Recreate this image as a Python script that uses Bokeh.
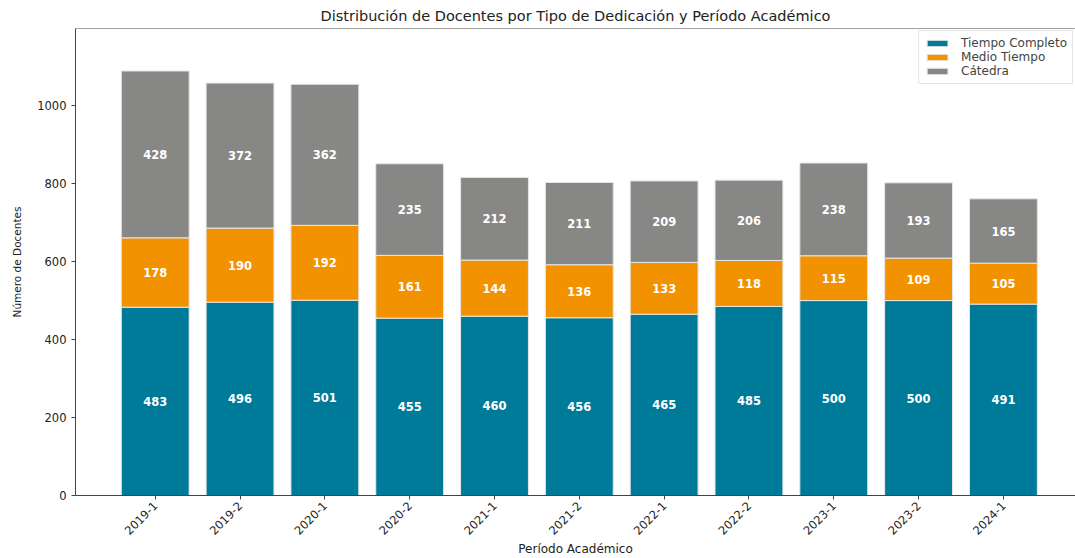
import numpy as np
from bokeh.plotting import figure
from bokeh.models import ColumnDataSource, FixedTicker, Span, Legend, LegendItem
from bokeh.core.properties import value
from bokeh.embed import file_html
from bokeh.resources import INLINE

periodos = ["2019-1", "2019-2", "2020-1", "2020-2", "2021-1", "2021-2",
            "2022-1", "2022-2", "2023-1", "2023-2", "2024-1"]
tiempo_completo = [483, 496, 501, 455, 460, 456, 465, 485, 500, 500, 491]
medio_tiempo = [178, 190, 192, 161, 144, 136, 133, 118, 115, 109, 105]
catedra = [428, 372, 362, 235, 212, 211, 209, 206, 238, 193, 165]

series_names = ["Tiempo Completo", "Medio Tiempo", "Cátedra"]
colors = ["#007A99", "#F39200", "#878786"]
FONT = "DejaVu Sans"

x = list(range(len(periodos)))
tc = np.array(tiempo_completo)
mt = np.array(medio_tiempo)
ca = np.array(catedra)

src = ColumnDataSource(dict(
    x=x,
    tc=tiempo_completo, mt=medio_tiempo, ca=catedra,
))

Y_MAX = 1198
p = figure(width=1075, height=558, output_backend="svg", toolbar_location=None,
           x_range=(-0.94, 10.85), y_range=(0, Y_MAX),
           min_border_left=75, min_border_top=27, min_border_bottom=58,
           min_border_right=0)

renderers = p.vbar_stack(["tc", "mt", "ca"], x="x", width=0.8, source=src,
                         color=colors, line_color="#e6e6e6", line_width=1)

# labels
label_sets = [
    (tc / 2, tiempo_completo),
    (tc + mt / 2, medio_tiempo),
    (tc + mt + ca / 2, catedra),
]
for ys, vals in label_sets:
    lsrc = ColumnDataSource(dict(x=x, y=list(ys), t=[str(v) for v in vals]))
    p.text(x="x", y="y", text="t", source=lsrc, text_align="center",
           text_baseline="middle", text_color="white", text_font=value(FONT),
           text_font_style="bold", text_font_size="11.5px")

legend = Legend(items=[LegendItem(label=n, renderers=[r]) for n, r in zip(series_names, renderers)],
                location="top_right", label_text_font=FONT, label_text_font_size="12px",
                glyph_width=26, glyph_height=8, label_height=12, spacing=0,
                padding=5, margin=2, border_line_color="#cccccc",
                label_standoff=11)
p.add_layout(legend)

p.title.text = "Distribución de Docentes por Tipo de Dedicación y Período Académico"
p.title.text_font = FONT
p.title.text_font_size = "14.5px"
p.title.text_font_style = "normal"
p.title.align = "center"
p.title.text_color = "#222222"
p.title.offset = 6

p.xgrid.visible = False
p.ygrid.visible = False
p.outline_line_color = None
p.add_layout(Span(location=Y_MAX, dimension="width", line_color="#444444", line_width=1))

p.xaxis.ticker = FixedTicker(ticks=x)
p.xaxis.major_label_overrides = {i: s for i, s in enumerate(periodos)}
p.xaxis.major_label_orientation = np.pi / 4
p.xaxis.axis_label = "Período Académico"
p.yaxis.ticker = FixedTicker(ticks=[0, 200, 400, 600, 800, 1000])
p.yaxis.axis_label = "Número de Docentes"

for ax in (p.xaxis[0], p.yaxis[0]):
    ax.major_label_text_font = FONT
    ax.major_label_text_font_size = "11.5px"
    ax.major_label_text_color = "#222222"
    ax.axis_label_text_font = FONT
    ax.axis_label_text_font_size = "12px"
    ax.axis_label_text_font_style = "normal"
    ax.axis_label_text_color = "#222222"
    ax.minor_tick_line_color = None
    ax.major_tick_out = 4
    ax.major_tick_in = 0
    ax.axis_line_color = "#444444"
    ax.major_tick_line_color = "#444444"
p.xaxis.major_label_standoff = 4
p.xaxis.axis_label_standoff = 0
p.yaxis.axis_label_standoff = 11
p.yaxis.axis_label_text_font_size = "10.5px"

open("out.html", "w").write(file_html(p, INLINE))
